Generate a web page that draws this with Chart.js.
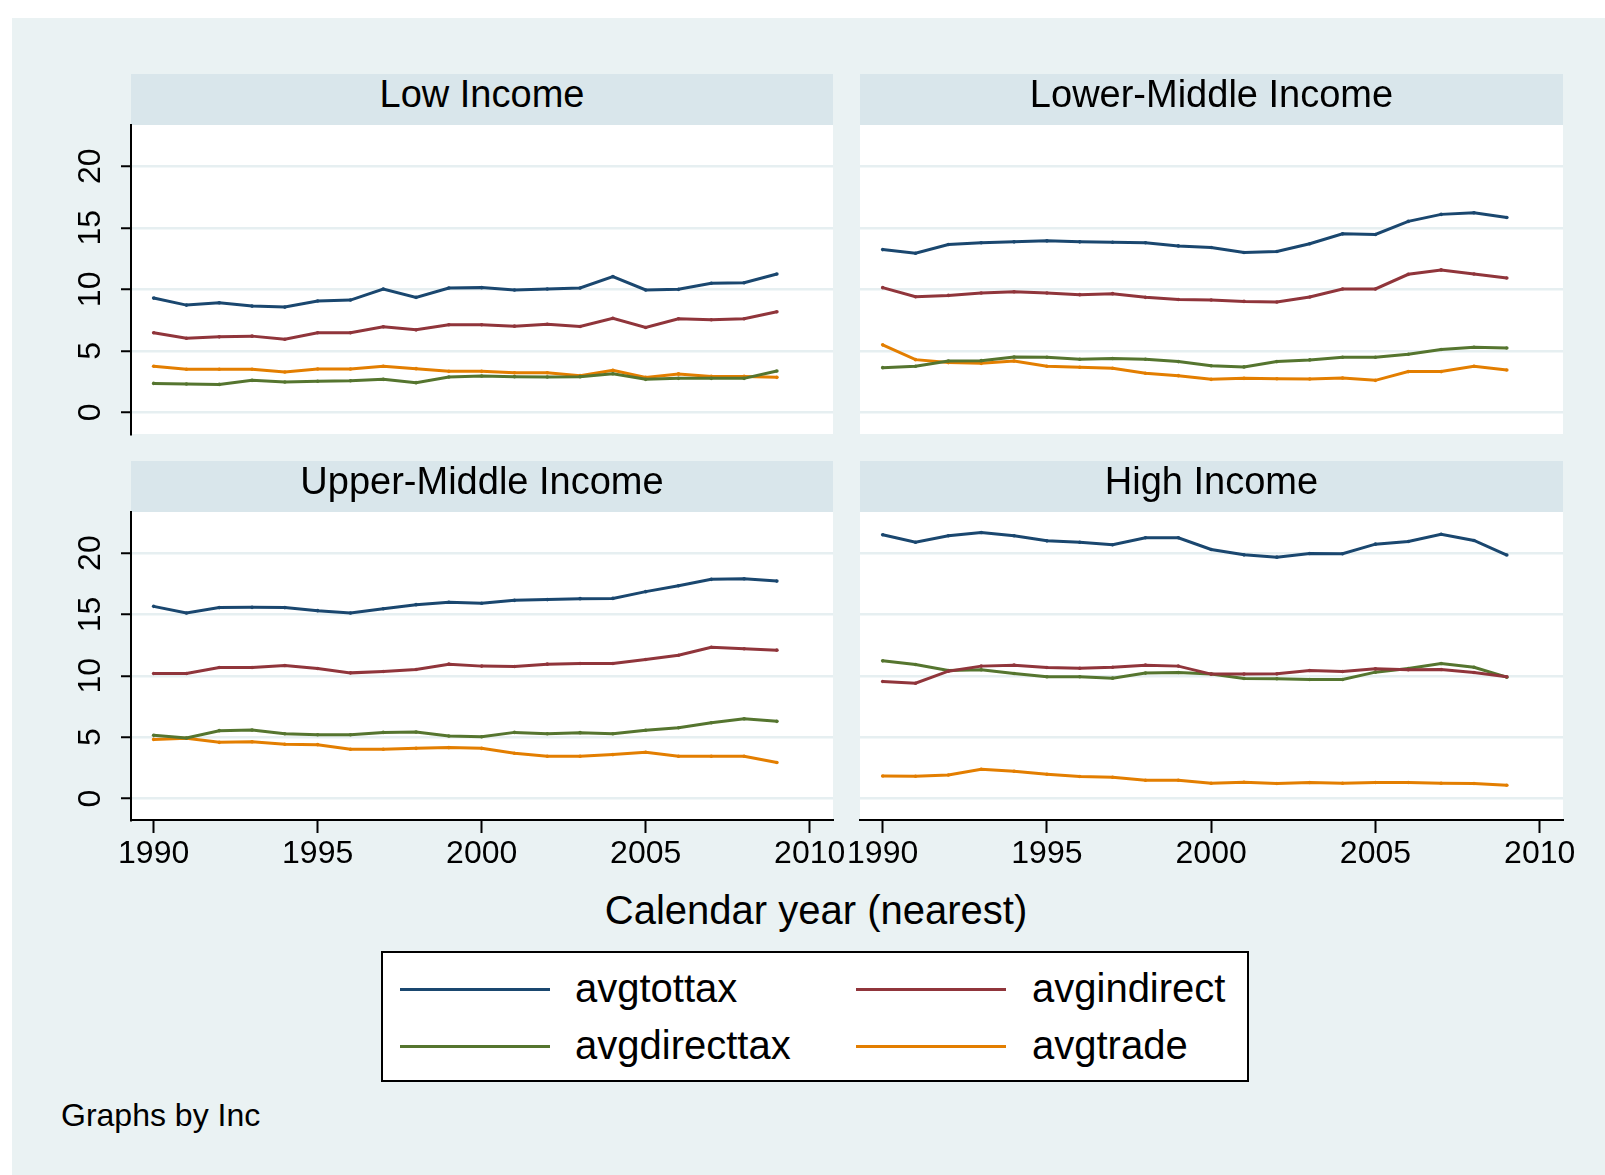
<!DOCTYPE html>
<html>
<head>
<meta charset="utf-8">
<script src="https://cdn.jsdelivr.net/npm/chart.js@4.4.1/dist/chart.umd.min.js"></script>
<style>
  body { margin: 0; width: 1605px; height: 1175px; background: #fff; position: relative; overflow: hidden;
         font-family: 'Liberation Sans', Arial, sans-serif; color: #000; }
  #bg { position: absolute; left: 12px; top: 18px; right: 0; bottom: 0; background: #eaf2f3; }
  .hdr { position: absolute; background: #d9e6eb; text-align: center; font-size: 38px; line-height: 38px;
         box-sizing: border-box; padding-top: 1px; white-space: nowrap; }
  .plot { position: absolute; background: #fff; }
  canvas { position: absolute; }
  .txt { position: absolute; white-space: nowrap; }
  #legend { position: absolute; left: 381px; top: 951px; width: 868px; height: 131px; box-sizing: border-box;
            border: 2px solid #000; background: #fff; }
  .key { position: absolute; height: 3px; width: 150px; }
</style>
</head>
<body>
<div id="bg"></div>

<script>
// values, one list per series and panel
const years = [1990, 1991, 1992, 1993, 1994, 1995, 1996, 1997, 1998, 1999,
               2000, 2001, 2002, 2003, 2004, 2005, 2006, 2007, 2008, 2009];
const seriesNames = ['avgtottax', 'avgindirect', 'avgdirecttax', 'avgtrade'];
const panelTitles = ['Low Income', 'Lower-Middle Income', 'Upper-Middle Income', 'High Income'];
const xTickValues = [1990, 1995, 2000, 2005, 2010];
const yTickValues = [0, 5, 10, 15, 20];

const lowTot = [9.29, 8.72, 8.91, 8.64, 8.56, 9.05, 9.13, 10.03, 9.35, 10.11, 10.14, 9.95, 10.03, 10.11, 11.03, 9.95, 10.0, 10.49, 10.54, 11.25];
const lowInd = [6.47, 6.03, 6.14, 6.2, 5.95, 6.47, 6.47, 6.96, 6.71, 7.12, 7.12, 7.01, 7.17, 6.98, 7.64, 6.9, 7.61, 7.53, 7.61, 8.18];
const lowDir = [2.36, 2.31, 2.28, 2.61, 2.47, 2.53, 2.58, 2.69, 2.42, 2.88, 2.96, 2.91, 2.88, 2.91, 3.15, 2.69, 2.77, 2.77, 2.77, 3.37];
const lowTrd = [3.75, 3.51, 3.51, 3.51, 3.29, 3.53, 3.53, 3.75, 3.56, 3.34, 3.34, 3.23, 3.23, 2.99, 3.42, 2.85, 3.13, 2.93, 2.93, 2.85];

const lmTot = [13.23, 12.93, 13.64, 13.78, 13.86, 13.94, 13.86, 13.83, 13.78, 13.53, 13.4, 12.99, 13.07, 13.7, 14.51, 14.46, 15.52, 16.09, 16.22, 15.84];
const lmInd = [10.14, 9.4, 9.51, 9.7, 9.81, 9.7, 9.57, 9.65, 9.35, 9.18, 9.13, 9.02, 8.97, 9.38, 10.03, 10.03, 11.22, 11.58, 11.25, 10.92];
const lmDir = [3.64, 3.75, 4.18, 4.21, 4.51, 4.48, 4.32, 4.38, 4.32, 4.13, 3.8, 3.7, 4.13, 4.27, 4.48, 4.48, 4.73, 5.11, 5.3, 5.24];
const lmTrd = [5.49, 4.29, 4.05, 3.99, 4.18, 3.75, 3.67, 3.59, 3.18, 2.99, 2.69, 2.77, 2.74, 2.72, 2.8, 2.61, 3.32, 3.32, 3.75, 3.45];

const umTot = [15.66, 15.12, 15.56, 15.58, 15.56, 15.31, 15.12, 15.47, 15.8, 15.99, 15.91, 16.15, 16.21, 16.29, 16.31, 16.86, 17.34, 17.86, 17.91, 17.72];
const umInd = [10.19, 10.19, 10.68, 10.68, 10.84, 10.6, 10.24, 10.35, 10.51, 10.95, 10.79, 10.76, 10.95, 11.0, 11.0, 11.33, 11.68, 12.33, 12.2, 12.09];
const umDir = [5.15, 4.93, 5.53, 5.58, 5.28, 5.2, 5.2, 5.39, 5.42, 5.09, 5.04, 5.39, 5.28, 5.37, 5.28, 5.56, 5.77, 6.18, 6.5, 6.29];
const umTrd = [4.82, 4.91, 4.58, 4.63, 4.42, 4.39, 4.01, 4.01, 4.09, 4.15, 4.09, 3.69, 3.44, 3.44, 3.58, 3.77, 3.44, 3.44, 3.44, 2.93];

const hiTot = [21.49, 20.89, 21.41, 21.68, 21.41, 21.0, 20.89, 20.68, 21.25, 21.25, 20.3, 19.86, 19.67, 19.97, 19.95, 20.73, 20.95, 21.54, 21.03, 19.84];
const hiInd = [9.54, 9.4, 10.38, 10.79, 10.87, 10.68, 10.62, 10.7, 10.87, 10.79, 10.14, 10.14, 10.16, 10.43, 10.35, 10.57, 10.49, 10.51, 10.27, 9.92];
const hiDir = [11.22, 10.92, 10.43, 10.49, 10.19, 9.92, 9.92, 9.81, 10.22, 10.27, 10.14, 9.78, 9.76, 9.7, 9.7, 10.3, 10.6, 11.0, 10.7, 9.89];
const hiTrd = [1.84, 1.82, 1.92, 2.38, 2.22, 1.98, 1.79, 1.73, 1.49, 1.49, 1.25, 1.33, 1.22, 1.3, 1.25, 1.3, 1.3, 1.25, 1.22, 1.08];

// stata s2color pens
const colors = ['#1a476f', '#90353b', '#55752f', '#e37e00'];
const FONT = "'Liberation Sans', Arial, sans-serif";

const panels = [
    { title: panelTitles[0], data: [lowTot, lowInd, lowDir, lowTrd], col: 0, row: 0 },
    { title: panelTitles[1], data: [lmTot, lmInd, lmDir, lmTrd], col: 1, row: 0 },
    { title: panelTitles[2], data: [umTot, umInd, umDir, umTrd], col: 0, row: 1 },
    { title: panelTitles[3], data: [hiTot, hiInd, hiDir, hiTrd], col: 1, row: 1 }
];

// plot regions in page pixels
const colBox = [{ left: 131, width: 702 }, { left: 860, width: 703 }];
const rowBox = [{ top: 125, height: 309, hdrTop: 74 }, { top: 512, height: 308, hdrTop: 461 }];

function addDiv(cls, css, text) {
    const d = document.createElement('div');
    d.className = cls;
    Object.assign(d.style, css);
    if (text !== undefined) d.textContent = text;
    document.body.appendChild(d);
    return d;
}

function drawPanel(p) {
    const c = colBox[p.col];
    const r = rowBox[p.row];
    const showY = p.col === 0;
    const showX = p.row === 1;
    const yW = showY ? 100 : 0;
    const xH = showX ? 50 : 0;
    const pad = { left: 30, right: 40, top: 40, bottom: showX ? 0 : 40 };

    addDiv('hdr', { left: c.left + 'px', top: r.hdrTop + 'px', width: c.width + 'px', height: (r.top - r.hdrTop) + 'px' }, p.title);
    addDiv('plot', { left: c.left + 'px', top: r.top + 'px', width: c.width + 'px', height: r.height + 'px' });

    const cv = document.createElement('canvas');
    cv.width = pad.left + yW + c.width + pad.right;
    cv.height = pad.top + r.height + xH + pad.bottom;
    cv.style.left = (c.left - yW - pad.left) + 'px';
    cv.style.top = (r.top - pad.top) + 'px';
    document.body.appendChild(cv);

    new Chart(cv.getContext('2d'), {
        type: 'line',
        data: {
            datasets: p.data.map((vals, i) => ({
                label: seriesNames[i],
                data: vals.map((v, k) => ({ x: years[k], y: v })),
                borderColor: colors[i],
                backgroundColor: colors[i],
                borderWidth: 3,
                pointRadius: 1.8,
                pointBorderWidth: 0,
                tension: 0
            }))
        },
        options: {
            responsive: false,
            animation: false,
            devicePixelRatio: 1,
            layout: { padding: pad },
            plugins: { legend: { display: false }, tooltip: { enabled: false } },
            scales: {
                x: {
                    type: 'linear',
                    min: 1989.31,
                    max: 2010.71,
                    display: showX,
                    afterBuildTicks: s => { s.ticks = xTickValues.map(v => ({ value: v })); },
                    afterFit: s => { s.height = xH; },
                    grid: { drawOnChartArea: false, tickLength: 13, tickWidth: 2, tickColor: '#000' },
                    border: { display: true, color: '#000', width: 2 },
                    ticks: {
                        color: '#000', font: { family: FONT, size: 32 }, padding: 2,
                        minRotation: 0, maxRotation: 0, autoSkip: false,
                        callback: v => String(v)
                    }
                },
                y: {
                    min: -1.75,
                    max: 23.35,
                    afterBuildTicks: s => { s.ticks = yTickValues.map(v => ({ value: v })); },
                    afterFit: s => { s.width = yW; },
                    grid: { color: '#e6eff1', lineWidth: 2.5, drawTicks: showY, tickLength: 10, tickWidth: 2, tickColor: '#000' },
                    border: { display: showY, color: '#000', width: 2 },
                    ticks: {
                        display: showY, color: '#000', font: { family: FONT, size: 32 }, padding: 12,
                        minRotation: 90, maxRotation: 90, crossAlign: 'center', autoSkip: false,
                        callback: v => String(v)
                    }
                }
            }
        }
    });
}

panels.forEach(drawPanel);

// shared axis title, legend and note
addDiv('txt', { left: '316px', width: '1000px', textAlign: 'center', top: '890px', fontSize: '40px', lineHeight: '40px' }, 'Calendar year (nearest)');

const legend = addDiv('', {}, undefined);
legend.id = 'legend';
const keyX = [400, 856];
const labelX = [575, 1032];
const rowY = [989, 1046];
seriesNames.forEach((name, i) => {
    const col = i % 2, row = Math.floor(i / 2);
    addDiv('key', { left: keyX[col] + 'px', top: (rowY[row] - 1.5) + 'px', background: colors[i] });
    addDiv('txt', { left: labelX[col] + 'px', top: (rowY[row] - 21) + 'px', fontSize: '40px', lineHeight: '40px' }, name);
});

addDiv('txt', { left: '61px', top: '1099px', fontSize: '32px', lineHeight: '32px' }, 'Graphs by Inc');
</script>
</body>
</html>
